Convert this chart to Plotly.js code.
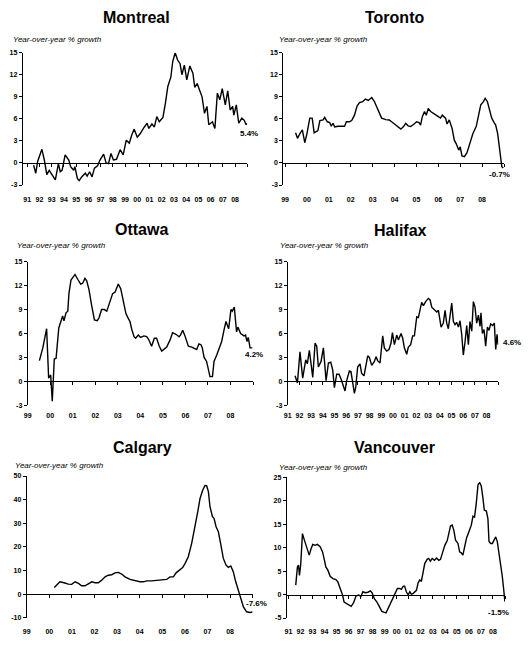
<!DOCTYPE html>
<html>
<head>
<meta charset="utf-8">
<script src="https://cdn.plot.ly/plotly-3.0.1.min.js"></script>
<style>
  html, body { margin: 0; padding: 0; background: #fff; }
  #chart { width: 531px; height: 650px; }
</style>
</head>
<body>
<div id="chart"></div>
<script>
let W = 531
let H = 650

let cities = ["Montreal", "Toronto", "Ottawa", "Halifax", "Calgary", "Vancouver"]
let endLabels = ["5.4%", "-0.7%", "4.2%", "4.6%", "-7.6%", "-1.5%"]
let noteText = "Year-over-year % growth"

// x values are decimal years, y values year-over-year % growth
let montrealX = [1991.52,1991.7,1991.85,1992.0,1992.2,1992.4,1992.6,1992.8,1993.0,1993.3,1993.55,1993.7,1993.85,1994.1,1994.4,1994.55,1994.8,1994.9,1995.1,1995.25,1995.45,1995.75,1995.9,1996.1,1996.3,1996.5,1996.75,1996.95,1997.25,1997.45,1997.65,1997.85,1998.05,1998.3,1998.6,1998.85,1999.1,1999.35,1999.55,1999.75,2000.0,2000.25,2000.5,2000.8,2000.95,2001.2,2001.4,2001.6,2001.8,2002.1,2002.3,2002.5,2002.75,2002.9,2003.1,2003.3,2003.5,2003.65,2003.85,2004.05,2004.3,2004.55,2004.7,2004.9,2005.1,2005.3,2005.5,2005.7,2005.85,2006.15,2006.35,2006.55,2006.75,2006.95,2007.2,2007.4,2007.6,2007.8,2007.9,2008.1,2008.3,2008.55,2008.75,2008.9,2008.97]
let montrealY = [-0.3,-1.4,0.2,0.9,1.85,0.4,-1.6,-1.0,-1.5,-2.3,-0.1,-1.2,-1.0,1.1,0.4,-0.5,-1.0,-0.5,-2.1,-2.4,-1.9,-1.4,-1.8,-1.2,-1.9,-0.7,-0.4,0.4,1.2,0.0,-0.1,1.3,0.4,0.5,1.8,1.1,3.1,2.7,3.8,4.6,3.5,4.0,4.7,5.4,4.7,5.3,4.9,6.3,5.6,6.2,8.1,10.4,11.7,13.8,15.0,14.0,13.5,12.0,13.3,11.3,13.2,12.2,10.3,10.8,9.9,9.0,6.75,7.7,5.2,5.6,4.7,9.5,8.6,10.1,7.9,9.8,7.2,7.7,6.5,7.9,5.4,6.1,5.8,5.2,5.4]

let torontoX = [1999.48,1999.57,1999.68,1999.79,1999.9,2000.0,2000.13,2000.24,2000.33,2000.43,2000.5,2000.59,2000.74,2000.81,2000.93,2001.04,2001.11,2001.19,2001.27,2001.42,2001.57,2001.72,2001.8,2001.95,2002.05,2002.17,2002.29,2002.4,2002.55,2002.67,2002.8,2002.96,2003.08,2003.23,2003.41,2003.6,2003.76,2003.91,2004.06,2004.21,2004.29,2004.41,2004.51,2004.62,2004.74,2004.89,2005.01,2005.12,2005.19,2005.27,2005.37,2005.45,2005.54,2005.65,2005.8,2005.95,2006.1,2006.18,2006.33,2006.4,2006.5,2006.63,2006.73,2006.82,2006.93,2007.0,2007.08,2007.19,2007.31,2007.43,2007.58,2007.73,2007.84,2007.94,2008.06,2008.14,2008.24,2008.34,2008.44,2008.55,2008.62,2008.71,2008.82,2008.9,2008.97]
let torontoY = [4.1,3.35,4.0,4.5,2.75,4.0,6.1,6.1,4.1,4.25,4.4,5.75,5.85,6.2,5.6,5.5,5.0,5.4,4.9,5.0,5.0,5.0,5.6,5.6,5.8,6.5,7.75,8.2,8.35,8.7,8.5,8.9,8.35,7.2,6.1,5.9,5.85,5.5,5.15,4.85,4.6,4.95,5.4,5.05,4.95,5.3,5.6,5.5,5.15,6.3,7.0,6.5,7.4,7.0,6.75,6.4,6.1,6.5,6.1,5.3,5.85,4.7,3.1,2.6,1.75,2.2,0.95,0.85,1.4,2.45,4.0,4.95,6.75,7.9,8.35,8.8,8.35,7.0,6.1,5.5,5.15,4.0,1.75,-0.5,-0.7]

let ottawaX = [1999.52,1999.67,1999.84,1999.93,2000.02,2000.09,2000.18,2000.26,2000.38,2000.48,2000.55,2000.61,2000.7,2000.78,2000.83,2000.92,2001.0,2001.1,2001.22,2001.35,2001.44,2001.54,2001.62,2001.72,2001.84,2001.96,2002.09,2002.17,2002.28,2002.4,2002.51,2002.65,2002.77,2002.88,2002.95,2003.02,2003.13,2003.25,2003.36,2003.48,2003.54,2003.62,2003.72,2003.79,2003.91,2004.01,2004.16,2004.28,2004.36,2004.5,2004.62,2004.72,2004.84,2004.95,2005.07,2005.17,2005.32,2005.43,2005.58,2005.72,2005.78,2005.88,2005.98,2006.13,2006.28,2006.43,2006.5,2006.6,2006.69,2006.75,2006.83,2006.94,2007.02,2007.09,2007.2,2007.27,2007.39,2007.49,2007.61,2007.71,2007.8,2007.92,2008.02,2008.08,2008.17,2008.27,2008.33,2008.45,2008.6,2008.67,2008.73,2008.79,2008.87,2008.97]
let ottawaY = [2.6,4.2,6.6,0.4,0.8,-2.5,2.8,2.9,6.7,7.5,8.2,7.6,8.6,8.8,11.0,12.7,13.0,13.4,12.8,12.2,12.3,12.9,12.6,11.5,9.5,7.7,7.6,8.0,9.0,9.0,8.8,10.0,11.0,11.2,11.8,12.2,11.6,10.0,8.5,7.8,7.5,6.5,5.6,5.4,5.8,5.5,5.7,5.6,5.3,4.4,5.4,5.4,4.4,3.8,4.1,4.3,5.2,6.1,5.9,5.6,5.8,6.4,5.7,4.4,4.3,4.1,4.0,4.7,4.6,4.2,3.0,2.5,1.5,0.6,0.6,2.5,3.3,4.2,5.0,6.4,7.5,6.6,9.0,8.8,9.3,6.2,6.8,6.0,5.7,5.8,5.0,5.5,4.2,4.2]

let halifaxX = [1991.63,1991.83,1992.05,1992.28,1992.54,1992.68,1992.85,1993.0,1993.14,1993.34,1993.48,1993.62,1993.85,1994.05,1994.13,1994.28,1994.48,1994.68,1994.85,1994.99,1995.19,1995.39,1995.56,1995.73,1995.9,1996.04,1996.27,1996.41,1996.56,1996.7,1996.81,1996.98,1997.18,1997.32,1997.52,1997.67,1997.84,1997.98,1998.18,1998.41,1998.55,1998.69,1998.89,1999.12,1999.26,1999.46,1999.66,1999.83,1999.95,2000.12,2000.32,2000.46,2000.69,2000.83,2000.97,2001.17,2001.31,2001.51,2001.68,2001.83,2002.03,2002.17,2002.31,2002.45,2002.6,2002.79,2003.02,2003.17,2003.31,2003.54,2003.74,2003.88,2004.11,2004.3,2004.45,2004.59,2004.73,2005.02,2005.16,2005.3,2005.44,2005.59,2005.73,2005.87,2006.01,2006.16,2006.3,2006.44,2006.58,2006.73,2006.87,2007.01,2007.15,2007.3,2007.44,2007.52,2007.64,2007.78,2007.92,2008.07,2008.21,2008.35,2008.52,2008.66,2008.78,2008.89,2008.98]
let halifaxY = [0.7,-0.2,3.7,0.4,2.7,2.2,3.9,2.4,0.5,4.8,4.4,1.8,2.5,4.2,2.6,0.1,2.3,2.4,1.4,-0.8,0.9,0.9,0.3,-0.6,-1.2,0.1,1.3,1.2,-0.2,-1.5,-0.8,1.8,2.2,1.0,0.7,2.0,3.2,3.0,2.0,2.5,3.1,2.6,2.3,5.7,4.2,3.8,4.0,4.8,6.1,4.6,5.8,5.2,6.0,5.4,4.2,3.4,4.3,4.6,5.7,5.7,8.1,8.0,9.2,9.9,9.5,10.0,10.4,10.2,9.3,9.0,8.7,8.9,6.8,7.3,8.9,7.3,6.6,9.8,7.5,7.1,7.4,6.8,7.6,5.9,3.3,5.0,7.0,4.6,7.5,6.3,10.0,9.3,7.3,8.3,6.9,8.6,6.0,6.5,4.4,6.8,6.4,7.2,7.0,7.3,4.0,5.9,4.6]

let calgaryX = [2000.22,2000.33,2000.47,2000.65,2000.84,2000.99,2001.14,2001.29,2001.43,2001.58,2001.73,2001.88,2002.02,2002.17,2002.32,2002.47,2002.61,2002.76,2002.91,2003.06,2003.2,2003.35,2003.57,2003.79,2004.01,2004.16,2004.31,2004.53,2004.75,2004.97,2005.19,2005.34,2005.49,2005.61,2005.76,2005.9,2006.01,2006.15,2006.3,2006.45,2006.57,2006.67,2006.79,2006.89,2006.96,2007.04,2007.11,2007.22,2007.29,2007.38,2007.48,2007.58,2007.7,2007.82,2007.92,2008.03,2008.14,2008.25,2008.37,2008.47,2008.59,2008.73,2008.88,2008.99]
let calgaryY = [2.8,3.8,5.2,4.8,4.2,4.1,5.2,4.5,3.5,3.5,4.2,5.2,4.8,4.8,5.9,7.3,8.0,8.2,9.0,9.2,8.5,7.3,6.2,5.6,5.2,5.2,5.6,5.6,5.9,6.2,6.2,7.3,7.3,9.0,10.2,11.2,13.0,15.8,21.5,28.5,34.9,40.5,44.1,46.0,45.9,43.4,37.0,32.8,32.1,28.5,26.4,21.5,15.1,12.3,11.3,11.9,9.5,5.2,1.7,-1.8,-5.4,-7.5,-7.8,-7.6]

let vancouverX = [1991.61,1991.75,1991.84,1991.92,1992.03,1992.17,1992.33,1992.52,1992.73,1992.89,1993.03,1993.22,1993.41,1993.64,1993.84,1994.0,1994.11,1994.28,1994.47,1994.7,1994.95,1995.11,1995.3,1995.5,1995.63,1995.86,1996.06,1996.22,1996.41,1996.62,1996.84,1997.03,1997.19,1997.39,1997.61,1997.81,1997.95,1998.14,1998.36,1998.55,1998.77,1998.98,1999.11,1999.28,1999.47,1999.66,1999.89,2000.06,2000.22,2000.39,2000.55,2000.66,2000.8,2000.95,2001.09,2001.22,2001.36,2001.5,2001.64,2001.77,2001.91,2002.06,2002.2,2002.33,2002.53,2002.66,2002.8,2002.95,2003.14,2003.31,2003.5,2003.64,2003.83,2004.0,2004.2,2004.33,2004.47,2004.61,2004.75,2004.89,2005.09,2005.23,2005.36,2005.5,2005.64,2005.8,2006.0,2006.2,2006.34,2006.47,2006.61,2006.76,2006.9,2007.03,2007.17,2007.28,2007.45,2007.58,2007.67,2007.81,2007.95,2008.09,2008.23,2008.36,2008.5,2008.64,2008.78,2008.91,2008.99]
let vancouverY = [2.0,5.9,6.3,4.1,6.6,13.0,11.6,9.8,8.4,9.8,10.7,10.5,10.7,10.2,9.1,7.3,5.9,5.2,3.9,3.4,3.2,2.7,1.3,-0.1,-1.6,-1.9,-2.3,-2.5,-1.8,-0.3,-0.1,-0.4,0.6,0.4,0.5,0.8,0.4,-0.9,-1.6,-2.6,-3.6,-3.8,-3.9,-3.0,-1.9,-0.9,0.6,1.3,1.3,1.1,1.8,1.8,0.6,-0.1,0.6,0.1,0.2,0.6,0.9,2.4,3.1,2.9,4.5,6.6,7.5,7.7,7.1,7.7,7.3,7.8,7.3,7.5,9.1,10.5,11.5,12.9,14.6,14.8,13.7,11.6,10.9,9.1,8.9,8.4,10.5,12.0,13.4,14.8,16.7,16.5,19.4,23.4,23.9,23.1,20.5,18.0,17.8,16.2,11.3,10.9,10.9,11.6,12.3,11.3,9.1,6.6,3.8,0.6,-1.5]

let yTicks15 = [-3, 0, 3, 6, 9, 12, 15]
let yTicks50 = [-10, 0, 10, 20, 30, 40, 50]
let yTicks25 = [-5, 0, 5, 10, 15, 20, 25]

let years91 = [1991,1992,1993,1994,1995,1996,1997,1998,1999,2000,2001,2002,2003,2004,2005,2006,2007,2008]
let labels91 = ["91","92","93","94","95","96","97","98","99","00","01","02","03","04","05","06","07","08"]
let years99 = [1999,2000,2001,2002,2003,2004,2005,2006,2007,2008]
let labels99 = ["99","00","01","02","03","04","05","06","07","08"]
let lastYear = 2009

// panel placement, in page pixels
let panels = [
    { x: montrealX, y: montrealY, yTicks: yTicks15, years: years91, labels: labels91, xStart: 1990.63,
      left: 22.7, right: 247.3, top: 52.7, bottom: 185, labelAt: 194, title: [137, 17], note: [11, 39], end: [249, 133] },
    { x: torontoX, y: torontoY, yTicks: yTicks15, years: years99, labels: labels99, xStart: 1998.92,
      left: 283.3, right: 504, top: 52.7, bottom: 185, labelAt: 194, title: [394, 17], note: [277, 39], end: [499, 175] },
    { x: ottawaX, y: ottawaY, yTicks: yTicks15, years: years99, labels: labels99, xStart: 1999,
      left: 27.7, right: 253, top: 261.7, bottom: 405.3, labelAt: 410, title: [141, 229], note: [15, 246], end: [254, 355] },
    { x: halifaxX, y: halifaxY, yTicks: yTicks15, years: years91, labels: labels91, xStart: 1991,
      left: 287.7, right: 498.3, top: 261.7, bottom: 405.3, labelAt: 410, title: [400, 230], note: [278, 246], end: [512, 342] },
    { x: calgaryX, y: calgaryY, yTicks: yTicks50, years: years99, labels: labels99, xStart: 1999,
      left: 26.7, right: 252.7, top: 476, bottom: 617.7, labelAt: 626, title: [142, 447], note: [13, 465], end: [256, 603] },
    { x: vancouverX, y: vancouverY, yTicks: yTicks25, years: years91, labels: labels91, xStart: 1990.86,
      left: 286.7, right: 505, top: 477.3, bottom: 618, labelAt: 626, title: [394, 447], note: [277, 467], end: [498, 612] }
]

function fx(px) { return px / W }
function fy(py) { return 1 - py / H }

let fontFamily = "Liberation Sans, Arial, sans-serif"
let tickFont = { family: fontFamily, size: 7, color: "black", weight: "bold" }

let traces = []
let layout = {
    width: W,
    height: H,
    margin: { l: 0, r: 0, t: 0, b: 0 },
    paper_bgcolor: "white",
    plot_bgcolor: "rgba(0,0,0,0)",
    showlegend: false,
    annotations: []
}

panels.forEach((p, i) => {
    let n = i + 1
    let m = i + 7
    let yMin = p.yTicks[0]
    let yMax = p.yTicks[p.yTicks.length - 1]
    let xDomain = [fx(p.left), fx(p.right)]
    let yDomain = [fy(p.bottom), fy(p.top)]
    let zeroPos = yDomain[0] + (0 - yMin) / (yMax - yMin) * (yDomain[1] - yDomain[0])

    traces.push({
        x: p.x,
        y: p.y,
        xaxis: "x" + n,
        yaxis: "y" + n,
        type: "scatter",
        mode: "lines",
        line: { color: "black", width: 1.4 },
        hoverinfo: "skip"
    })
    // same series on the label axis, kept invisible, so plotly draws that axis
    traces.push({
        x: p.x,
        y: p.y,
        xaxis: "x" + m,
        yaxis: "y" + n,
        type: "scatter",
        mode: "lines",
        line: { color: "rgba(0,0,0,0)", width: 0 },
        hoverinfo: "skip"
    })

    // axis line along zero with year tick marks
    layout["xaxis" + n] = {
        domain: xDomain,
        range: [p.xStart, lastYear],
        anchor: "free",
        position: zeroPos,
        showline: true,
        linecolor: "black",
        linewidth: 1,
        ticks: "outside",
        ticklen: 3,
        tickcolor: "black",
        tickwidth: 1,
        tickvals: p.years.concat([lastYear]),
        showticklabels: false,
        showgrid: false,
        zeroline: false,
        fixedrange: true
    }

    // year labels sit at the bottom of the panel
    layout["xaxis" + m] = {
        overlaying: "x" + n,
        domain: xDomain,
        range: [p.xStart, lastYear],
        anchor: "free",
        position: fy(p.labelAt),
        showline: false,
        ticks: "",
        tickvals: p.years,
        ticktext: p.labels,
        tickfont: tickFont,
        showgrid: false,
        zeroline: false,
        fixedrange: true
    }

    layout["yaxis" + n] = {
        domain: yDomain,
        range: [yMin, yMax],
        anchor: "x" + n,
        showline: true,
        linecolor: "black",
        linewidth: 1,
        ticks: "outside",
        ticklen: 3,
        tickcolor: "black",
        tickvals: p.yTicks,
        ticktext: p.yTicks.map(String),
        tickfont: tickFont,
        showgrid: false,
        zeroline: false,
        fixedrange: true
    }

    layout.annotations.push({
        text: cities[i],
        xref: "paper", yref: "paper",
        x: fx(p.title[0]), y: fy(p.title[1]),
        xanchor: "center", yanchor: "middle",
        showarrow: false,
        font: { family: fontFamily, size: 16, color: "black", weight: "bold" }
    })
    layout.annotations.push({
        text: noteText,
        xref: "paper", yref: "paper",
        x: fx(p.note[0]), y: fy(p.note[1]),
        xanchor: "left", yanchor: "middle",
        showarrow: false,
        font: { family: fontFamily, size: 8, color: "black", style: "italic" }
    })
    layout.annotations.push({
        text: endLabels[i],
        xref: "paper", yref: "paper",
        x: fx(p.end[0]), y: fy(p.end[1]),
        xanchor: "center", yanchor: "middle",
        showarrow: false,
        font: { family: fontFamily, size: 8, color: "black", weight: "bold" }
    })
})

Plotly.newPlot("chart", traces, layout, { displayModeBar: false, staticPlot: true })
</script>
</body>
</html>
